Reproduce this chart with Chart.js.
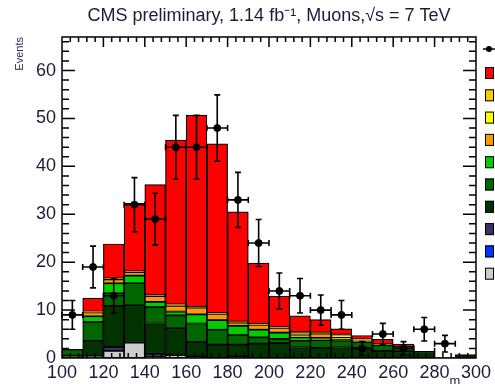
<!DOCTYPE html>
<html>
<head>
<meta charset="utf-8">
<script src="https://cdn.jsdelivr.net/npm/chart.js@4.4.0/dist/chart.umd.min.js"></script>
<style>
  body { margin: 0; background: #fff; }
  #c { display: block; }
</style>
</head>
<body>
<canvas id="c" width="495" height="384"></canvas>
<script>
// bin centres, 10 GeV bins from 100 to 300
const binCenters = [105, 115, 125, 135, 145, 155, 165, 175, 185, 195,
                    205, 215, 225, 235, 245, 255, 265, 275, 285, 295];

// observed events (null = empty bin)
const dataCounts = [9, 19, 13, 32, 29, 44, 44, 48, 33, 24,
                    14, 13, 10, 9, 2, 5, 2, 6, 3, null];

// stacked MC, bottom to top
const mcGray   = [0, 0.4, 1.5, 3.2, 0.3, 0.6, 0, 0, 0, 0, 0, 0, 0, 0, 0, 0, 0, 0, 0, 0];
const mcBlue   = [0, 0, 0, 0, 0, 0, 0, 0, 0, 0, 0, 0, 0, 0, 0, 0, 0, 0, 0, 0];
const mcNavy   = [0, 0, 0.8, 0, 0.6, 0, 0.3, 0, 0.3, 0, 0, 0, 0, 0, 0, 0, 0, 0, 0, 0];
const mcVDark  = [0.5, 3.2, 8.6, 7.8, 6.3, 5.6, 3.0, 2.8, 2.5, 3.0, 3.1, 2.2, 2.1, 2.2, 2.1, 1.5, 1.4, 1.4, 0.1, 0.7];
const mcDark   = [1.3, 3.9, 2.6, 4.6, 3.4, 2.7, 3.9, 3.1, 2.0, 1.3, 0.9, 1.4, 1.6, 1.4, 1.2, 1.2, 0.8, 0, 0, 0];
const mcGreen  = [0, 1.2, 2.1, 1.6, 1.1, 0.8, 1.9, 2.0, 1.9, 1.6, 1.3, 0.7, 0.5, 0.3, 0.2, 0.1, 0.1, 0, 0, 0];
const mcOrange = [0, 0.8, 0.8, 0.7, 1.2, 1.2, 1.4, 1.3, 0.7, 1.0, 1.0, 0.3, 0.9, 0.4, 0.2, 0.1, 0, 0, 0, 0];
const mcYellow = [0, 0.1, 0.1, 0.1, 0.1, 0.1, 0.1, 0.1, 0.1, 0.1, 0.1, 0.4, 0.1, 0.3, 0.1, 0, 0, 0, 0, 0];
const mcGold   = [0, 0.1, 0.1, 0.1, 0.1, 0.2, 0.1, 0.1, 0.1, 0.1, 0.1, 0.4, 0.1, 0.3, 0.1, 0, 0, 0, 0, 0];
const mcRed    = [0, 2.8, 7.2, 14.2, 23.1, 34.3, 40.0, 35.3, 22.9, 12.7, 6.4, 3.4, 2.7, 1.2, 0.8, 1.0, 0.6, 0, 0, 0];

const xTicks = [100, 120, 140, 160, 180, 200, 220, 240, 260, 280, 300];
const yTicks = [0, 10, 20, 30, 40, 50, 60];

const FONT = "'Liberation Sans', Arial, sans-serif";
const TXT = '#1c1c3a';

const stack = [
  { label: 'gray',   values: mcGray,   color: '#cccccc' },
  { label: 'blue',   values: mcBlue,   color: '#0033ff' },
  { label: 'navy',   values: mcNavy,   color: '#333366' },
  { label: 'vdark',  values: mcVDark,  color: '#003300' },
  { label: 'dark',   values: mcDark,   color: '#006600' },
  { label: 'green',  values: mcGreen,  color: '#00cc00' },
  { label: 'orange', values: mcOrange, color: '#ff9900' },
  { label: 'yellow', values: mcYellow, color: '#ffff00' },
  { label: 'gold',   values: mcGold,   color: '#ffcc00' },
  { label: 'red',    values: mcRed,    color: '#ff0000' }
];

const barSets = stack.map(s => ({
  type: 'bar',
  label: s.label,
  data: binCenters.map((x, i) => ({ x: x, y: s.values[i] })),
  backgroundColor: s.color,
  borderColor: '#000',
  borderWidth: 1.2,
  borderSkipped: false,
  stack: 'mc',
  barPercentage: 1,
  categoryPercentage: 1,
  order: 2
}));

const dataSet = {
  type: 'scatter',
  label: 'data',
  data: binCenters.map((x, i) => ({ x: x, y: dataCounts[i] })),
  yAxisID: 'yd',
  pointRadius: 3.5,
  pointBackgroundColor: '#000',
  pointBorderColor: '#000',
  showLine: false,
  order: 0
};

// data error bars: sqrt(N) vertically, bin width horizontally
const errorBars = {
  id: 'errorBars',
  afterDatasetsDraw(chart) {
    const ctx = chart.ctx, xs = chart.scales.x, ys = chart.scales.yd;
    ctx.save();
    ctx.strokeStyle = '#000';
    ctx.lineWidth = 1.6;
    dataCounts.forEach((n, i) => {
      if (n === null) return;
      const x = xs.getPixelForValue(binCenters[i]);
      const xl = xs.getPixelForValue(binCenters[i] - 5);
      const xr = xs.getPixelForValue(binCenters[i] + 5);
      const y = ys.getPixelForValue(n);
      const e = Math.sqrt(n);
      const yt = ys.getPixelForValue(n + e);
      const yb = ys.getPixelForValue(Math.max(0, n - e));
      ctx.beginPath();
      ctx.moveTo(x, yt); ctx.lineTo(x, yb);
      ctx.moveTo(xl, y); ctx.lineTo(xr, y);
      ctx.moveTo(x - 3, yt); ctx.lineTo(x + 3, yt);
      ctx.moveTo(x - 3, yb); ctx.lineTo(x + 3, yb);
      ctx.moveTo(xl, y - 3); ctx.lineTo(xl, y + 3);
      ctx.moveTo(xr, y - 3); ctx.lineTo(xr, y + 3);
      ctx.stroke();
    });
    ctx.restore();
  }
};

// ROOT-like frame with inward ticks on all sides, plus cut-off legend
const frame = {
  id: 'frame',
  afterDraw(chart) {
    const ctx = chart.ctx, a = chart.chartArea;
    const xs = chart.scales.x, ys = chart.scales.y;
    ctx.save();
    ctx.strokeStyle = '#000';
    ctx.lineWidth = 1.5;
    ctx.strokeRect(a.left, a.top, a.right - a.left, a.bottom - a.top);
    ctx.beginPath();
    for (let v = 2; v <= ys.max; v += 2) {
      const y = ys.getPixelForValue(v);
      const len = v % 10 === 0 ? 13 : 7;
      ctx.moveTo(a.left, y); ctx.lineTo(a.left + len, y);
      ctx.moveTo(a.right, y); ctx.lineTo(a.right - len, y);
    }
    for (let v = 104; v < 300; v += 4) {
      const x = xs.getPixelForValue(v);
      const len = (v - 100) % 20 === 0 ? 10 : 5;
      ctx.moveTo(x, a.bottom); ctx.lineTo(x, a.bottom - len);
      ctx.moveTo(x, a.top); ctx.lineTo(x, a.top + len);
    }
    ctx.stroke();

    // legend (labels fall outside the canvas)
    ctx.lineWidth = 1.5;
    ctx.beginPath();
    ctx.moveTo(483, 49); ctx.lineTo(495, 49);
    ctx.stroke();
    ctx.fillStyle = '#000';
    ctx.beginPath();
    ctx.arc(489, 49, 3, 0, Math.PI * 2);
    ctx.fill();
    const items = stack.slice().reverse();
    items.forEach((s, i) => {
      const cy = 73 + i * 22.3;
      ctx.fillStyle = s.color;
      ctx.fillRect(485, cy - 6, 9, 12);
      ctx.lineWidth = 1;
      ctx.strokeRect(485.5, cy - 5.5, 8, 11);
    });

    ctx.fillStyle = TXT;
    ctx.font = '13px ' + FONT;
    ctx.textAlign = 'center';
    ctx.textBaseline = 'alphabetic';
    ctx.fillText('m', 455, 385);
    ctx.restore();
  }
};

new Chart(document.getElementById('c'), {
  data: { datasets: barSets.concat([dataSet]) },
  options: {
    responsive: false,
    animation: false,
    devicePixelRatio: 1,
    layout: { padding: { top: 0, right: 18, bottom: 0, left: 0 } },
    plugins: {
      legend: { display: false },
      tooltip: { enabled: false },
      title: {
        display: true,
        fullSize: false,
        text: 'CMS preliminary, 1.14 fb\u207B\u00B9, Muons,\u221As = 7 TeV',
        color: TXT,
        font: { family: FONT, size: 18, weight: 'normal' },
        padding: { top: 5, bottom: 10.4 }
      }
    },
    scales: {
      x: {
        type: 'linear',
        min: 100,
        max: 300,
        offset: false,
        grid: { display: false, drawTicks: false },
        border: { display: false },
        afterBuildTicks: s => { s.ticks = xTicks.map(v => ({ value: v })); },
        afterFit: s => { s.height = 26; },
        ticks: {
          color: TXT,
          font: { family: FONT, size: 18 },
          padding: 4,
          maxRotation: 0,
          autoSkip: false
        }
      },
      y: {
        stacked: true,
        min: 0,
        max: 67,
        grid: { display: false, drawTicks: false },
        border: { display: false },
        afterBuildTicks: s => { s.ticks = yTicks.map(v => ({ value: v })); },
        afterFit: s => { s.width = 62; },
        ticks: {
          color: TXT,
          font: { family: FONT, size: 18 },
          padding: 6
        },
        title: {
          display: true,
          text: 'Events',
          align: 'end',
          color: '#2b2b5c',
          font: { family: FONT, size: 11 },
          padding: { top: 13, bottom: 0 }
        }
      },
      yd: {
        display: false,
        min: 0,
        max: 67
      }
    }
  },
  plugins: [errorBars, frame]
});
</script>
</body>
</html>
